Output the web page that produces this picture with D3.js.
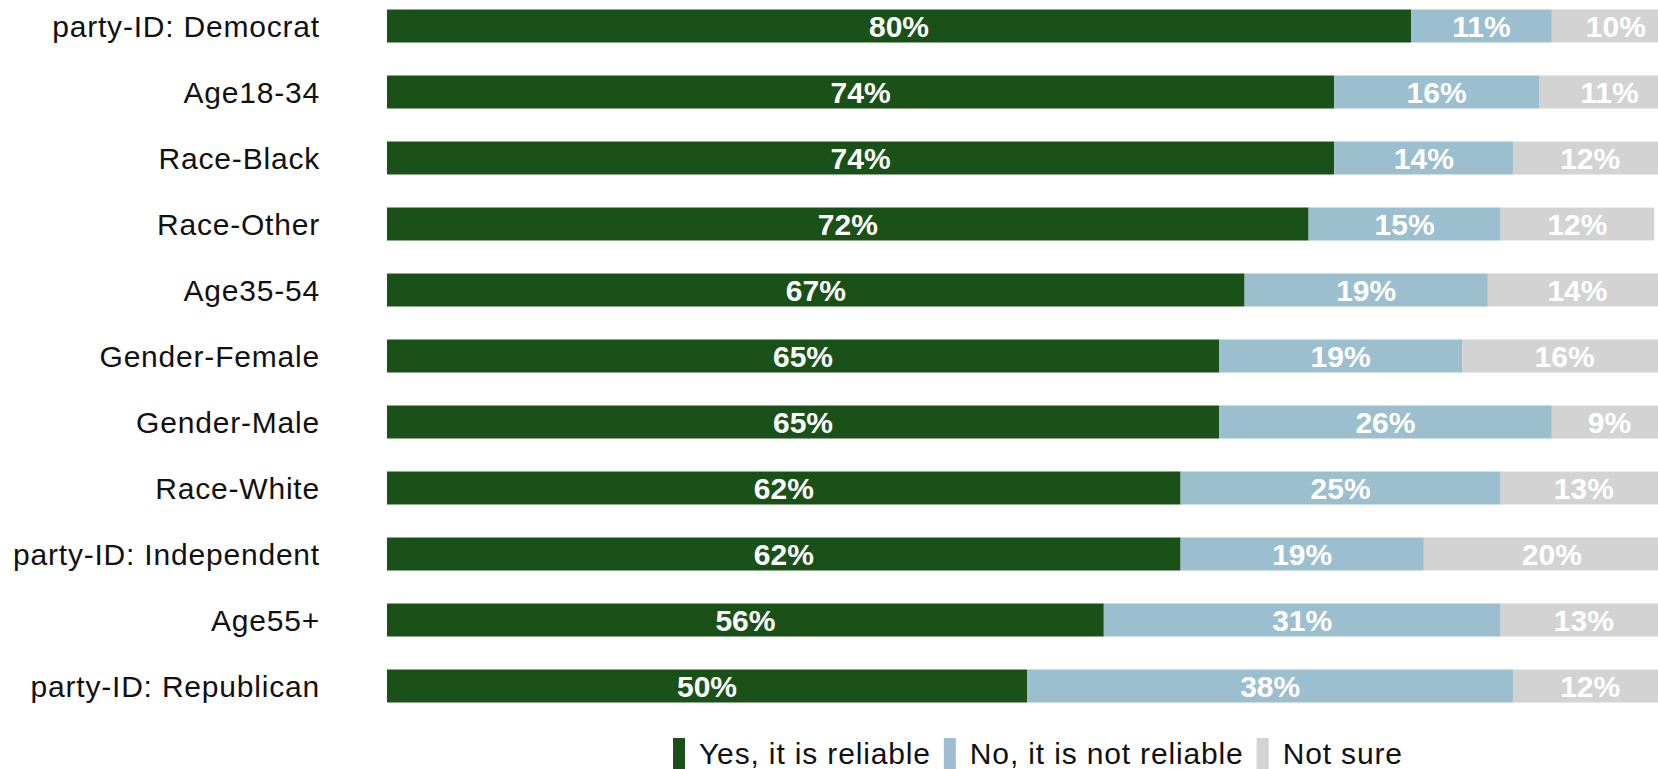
<!DOCTYPE html>
<html>
<head>
<meta charset="utf-8">
<script src="https://cdn.jsdelivr.net/npm/d3@7"></script>
<style>
  html, body { margin: 0; padding: 0; background: #fff; }
  svg { display: block; font-family: "Liberation Sans", Arial, Helvetica, sans-serif; }
</style>
</head>
<body>
<svg id="chart" width="1658" height="769"></svg>
<script>
// Groups, top to bottom
const groups = [
  "party-ID: Democrat", "Age18-34", "Race-Black", "Race-Other", "Age35-54",
  "Gender-Female", "Gender-Male", "Race-White", "party-ID: Independent",
  "Age55+", "party-ID: Republican"
];
// Share of answers per group (%)
const yesReliable    = [80, 74, 74, 72, 67, 65, 65, 62, 62, 56, 50];
const notReliable    = [11, 16, 14, 15, 19, 19, 26, 25, 19, 31, 38];
const notSure        = [10, 11, 12, 12, 14, 16,  9, 13, 20, 13, 12];
const seriesNames    = ["Yes, it is reliable", "No, it is not reliable", "Not sure"];
const seriesColors   = ["#1a5118", "#9bbfce", "#d3d3d3"];

const svg = d3.select("#chart");

const rows = groups.map((g, i) => ({
  group: g,
  "Yes, it is reliable": yesReliable[i],
  "No, it is not reliable": notReliable[i],
  "Not sure": notSure[i]
}));
const stacked = d3.stack().keys(seriesNames)(rows);

const x = d3.scaleLinear().domain([0, 100]).range([387, 1667]);
const y = d3.scaleBand().domain(groups).range([-7, 719]).paddingInner(0.5).paddingOuter(0.25);
const color = d3.scaleOrdinal().domain(seriesNames).range(seriesColors);

// Group labels
svg.append("g").selectAll("text")
  .data(groups)
  .join("text")
  .attr("x", 320)
  .attr("y", d => y(d) + y.bandwidth() / 2)
  .attr("dy", "0.36em")
  .attr("text-anchor", "end")
  .attr("font-size", 30)
  .attr("letter-spacing", 0.8)
  .attr("fill", "#111")
  .text(d => d);

// Stacked bars
const layers = svg.append("g").selectAll("g")
  .data(stacked)
  .join("g")
  .attr("fill", d => color(d.key));

layers.selectAll("rect")
  .data(d => d)
  .join("rect")
  .attr("x", d => x(d[0]))
  .attr("y", d => y(d.data.group))
  .attr("width", d => x(d[1]) - x(d[0]))
  .attr("height", y.bandwidth());

// Percentage labels inside each segment
const labels = svg.append("g").selectAll("g")
  .data(stacked)
  .join("g");

labels.selectAll("text")
  .data(d => d.map(v => ({ v, key: d.key })))
  .join("text")
  .attr("x", d => (x(d.v[0]) + x(d.v[1])) / 2)
  .attr("y", d => y(d.v.data.group) + y.bandwidth() / 2)
  .attr("dy", "0.36em")
  .attr("text-anchor", "middle")
  .attr("font-size", 30)
  .attr("font-weight", "bold")
  .attr("fill", "#fff")
  .text(d => (d.v[1] - d.v[0]) + "%");

// Legend
const legend = svg.append("g").attr("transform", "translate(673,738)");
let lx = 0;
seriesNames.forEach((name, i) => {
  const item = legend.append("g").attr("transform", `translate(${lx},0)`);
  item.append("rect").attr("width", 12).attr("height", 31).attr("fill", seriesColors[i]);
  const t = item.append("text")
    .attr("x", 26)
    .attr("y", 26)
    .attr("font-size", 30)
    .attr("letter-spacing", 0.85)
    .attr("fill", "#111")
    .text(name);
  lx += 26 + t.node().getComputedTextLength() + 13;
});
</script>
</body>
</html>
